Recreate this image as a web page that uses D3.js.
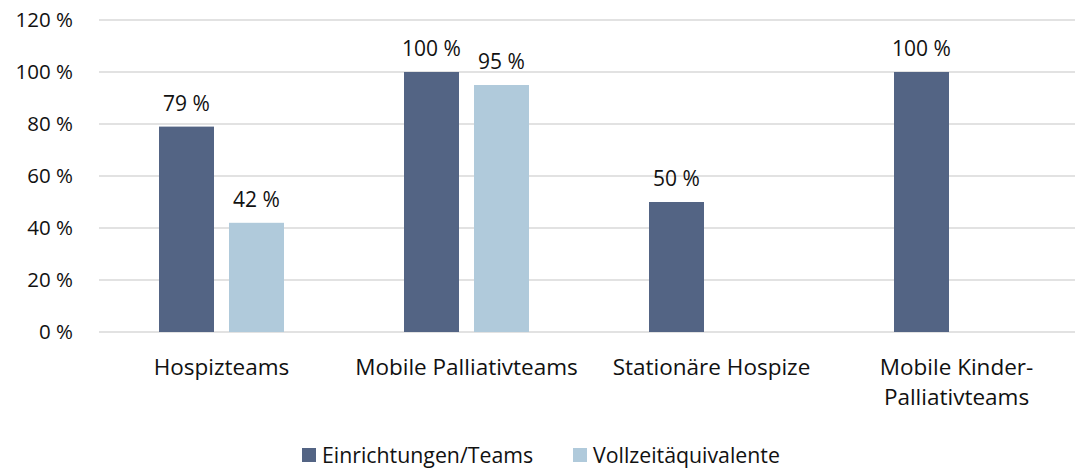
<!DOCTYPE html>
<html>
<head>
<meta charset="utf-8">
<script src="https://cdn.jsdelivr.net/npm/d3@7"></script>
<style>
  body { margin: 0; background: #fff; }
  text { font-family: "Open Sans", "Noto Sans", sans-serif; fill: #111; }
</style>
</head>
<body>
<div id="chart"></div>
<script>
var svgWidth = 1075;
var svgHeight = 469;

// data
var categories = ["Hospizteams", "Mobile Palliativteams", "Stationäre Hospize", "Mobile Kinder-\nPalliativteams"];
var seriesNames = ["Einrichtungen/Teams", "Vollzeitäquivalente"];
var einrichtungen = [79, 100, 50, 100];
var vollzeit = [42, 95, null, null];
var yTicks = [0, 20, 40, 60, 80, 100, 120];
var colors = ["#536484", "#b0cadb"];

var plotLeft = 99, plotRight = 1079;
var plotTop = 20, plotBottom = 332;

var svg = d3.select("#chart")
  .append("svg")
  .attr("width", svgWidth)
  .attr("height", svgHeight);

var x = d3.scaleBand()
  .domain(categories)
  .range([plotLeft, plotRight]);

var y = d3.scaleLinear()
  .domain([0, 120])
  .range([plotBottom, plotTop]);

// bars sit centered in each band, 55px wide with a 15px gap
var barW = 55, gap = 15;
var inner = d3.scaleBand()
  .domain(seriesNames)
  .range([0, barW * 2 + gap])
  .paddingInner(gap / (barW + gap));

// gridlines
svg.append("g")
  .selectAll("line")
  .data(yTicks)
  .enter()
  .append("line")
  .attr("x1", plotLeft)
  .attr("x2", svgWidth)
  .attr("y1", d => y(d))
  .attr("y2", d => y(d))
  .attr("stroke", "#d9d9d9")
  .attr("stroke-width", 1.3);

// y tick labels
svg.append("g")
  .selectAll("text")
  .data(yTicks)
  .enter()
  .append("text")
  .attr("x", 73)
  .attr("y", d => y(d))
  .attr("dy", "0.36em")
  .attr("text-anchor", "end")
  .style("font-size", "20.5px")
  .text(d => d + " %");

var rows = [];
categories.forEach(function(c, i) {
  rows.push({cat: c, s: seriesNames[0], v: einrichtungen[i], color: colors[0]});
  if (vollzeit[i] != null) rows.push({cat: c, s: seriesNames[1], v: vollzeit[i], color: colors[1]});
});

var groupOffset = (x.bandwidth() - (barW * 2 + gap)) / 2;

svg.append("g")
  .selectAll("rect")
  .data(rows)
  .enter()
  .append("rect")
  .attr("x", d => x(d.cat) + groupOffset + inner(d.s))
  .attr("width", inner.bandwidth())
  .attr("y", d => y(d.v))
  .attr("height", d => y(0) - y(d.v))
  .attr("fill", d => d.color);

// value labels
svg.append("g")
  .selectAll("text")
  .data(rows)
  .enter()
  .append("text")
  .attr("x", d => x(d.cat) + groupOffset + inner(d.s) + inner.bandwidth() / 2)
  .attr("y", d => y(d.v) - 16)
  .attr("text-anchor", "middle")
  .style("font-size", "21px")
  .text(d => d.v + " %");

// category labels
var catLabels = svg.append("g")
  .selectAll("text")
  .data(categories)
  .enter()
  .append("text")
  .attr("text-anchor", "middle")
  .attr("y", 375)
  .style("font-size", "22.5px");

catLabels.selectAll("tspan")
  .data(d => d.split("\n").map(t => ({t: t, cat: d})))
  .enter()
  .append("tspan")
  .attr("x", d => x(d.cat) + x.bandwidth() / 2)
  .attr("dy", (d, i) => i === 0 ? 0 : 30)
  .text(d => d.t);

// legend
var legendX = [302, 573];
var legend = svg.append("g")
  .selectAll("g")
  .data(seriesNames)
  .enter()
  .append("g")
  .attr("transform", (d, i) => `translate(${legendX[i]}, 448)`);

legend.append("rect")
  .attr("width", 14)
  .attr("height", 14)
  .attr("fill", (d, i) => colors[i]);

legend.append("text")
  .attr("x", 20)
  .attr("y", 7)
  .attr("dy", "0.36em")
  .style("font-size", "21.3px")
  .text(d => d);
</script>
</body>
</html>
